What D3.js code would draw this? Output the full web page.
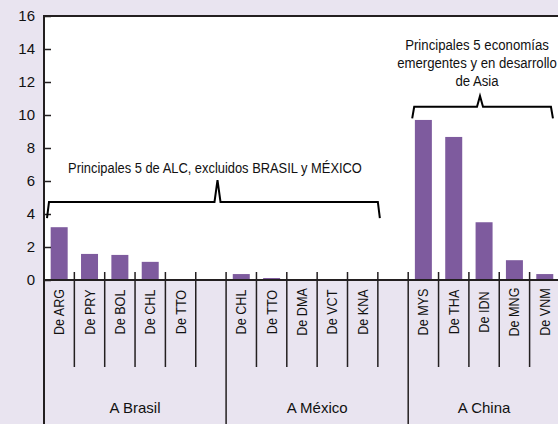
<!DOCTYPE html>
<html>
<head>
<meta charset="utf-8">
<script src="https://cdn.jsdelivr.net/npm/d3@7"></script>
<style>
  body { margin: 0; background: #e9e4f0; }
  svg { display: block; font-family: "Liberation Sans", Arial, sans-serif; }
</style>
</head>
<body>
<div id="chart"></div>
<script>
// categorias (los huecos vacíos separan los grupos)
const categories = ["De ARG", "De PRY", "De BOL", "De CHL", "De TTO", "",
                    "De CHL", "De TTO", "De DMA", "De VCT", "De KNA", "",
                    "De MYS", "De THA", "De IDN", "De MNG", "De VNM"];
const groupIndex = [0, 0, 0, 0, 0, 0, 1, 1, 1, 1, 1, 1, 2, 2, 2, 2, 2];
const groups = ["A Brasil", "A México", "A China"];
const values = [3.2, 1.58, 1.52, 1.1, 0, null,
                0.36, 0.12, 0, 0, 0, null,
                9.7, 8.67, 3.5, 1.2, 0.36];
const yTicks = [0, 2, 4, 6, 8, 10, 12, 14, 16];
const noteAlc = "Principales 5 de ALC, excluidos BRASIL y MÉXICO";
const noteAsia = ["Principales 5 economías", "emergentes y en desarrollo", "de Asia"];

const width = 558, height = 424;
const plotLeft = 44, plotTop = 16, plotBase = 280;
const step = 30.35;
const ink = "#231f20";
const narrow = 0.86; // el original usa una letra estrecha

const svg = d3.select("#chart").append("svg")
  .attr("width", width)
  .attr("height", height);

const x = d3.scaleBand()
  .domain(d3.range(categories.length))
  .range([plotLeft, plotLeft + step * categories.length]);

const y = d3.scaleLinear().domain([0, 16]).range([plotBase, plotTop]);

// area del grafico
svg.append("rect")
  .attr("x", plotLeft).attr("y", plotTop)
  .attr("width", width - plotLeft).attr("height", plotBase - plotTop)
  .attr("fill", "#fff");

// barras
const barW = x.bandwidth() * 0.56;
svg.selectAll("rect.bar")
  .data(values.map((v, i) => ({ v, i })).filter(d => d.v))
  .enter()
  .append("rect")
  .attr("class", "bar")
  .attr("x", d => x(d.i) + (x.bandwidth() - barW) / 2)
  .attr("y", d => y(d.v))
  .attr("width", barW)
  .attr("height", d => y(0) - y(d.v))
  .attr("fill", "#7e5b9e");

// eje y
const yAxis = svg.append("g")
  .attr("transform", `translate(${plotLeft},0)`)
  .call(d3.axisLeft(y).tickValues(yTicks).tickSize(-7).tickPadding(9));
yAxis.select(".domain").remove();
yAxis.selectAll("line").attr("stroke", ink).attr("stroke-width", 1.5);
yAxis.selectAll("text")
  .attr("font-size", 15)
  .attr("font-family", "Liberation Sans, Arial, sans-serif")
  .attr("fill", "#111");

// marco: izquierda y arriba
svg.append("line")
  .attr("x1", plotLeft).attr("x2", plotLeft)
  .attr("y1", plotTop - 1).attr("y2", height)
  .attr("stroke", ink).attr("stroke-width", 2);
svg.append("line")
  .attr("x1", plotLeft).attr("x2", width)
  .attr("y1", plotTop).attr("y2", plotTop)
  .attr("stroke", ink).attr("stroke-width", 2);

// eje x
svg.append("line")
  .attr("x1", plotLeft).attr("x2", width)
  .attr("y1", y(0)).attr("y2", y(0))
  .attr("stroke", ink).attr("stroke-width", 2);

// separadores entre categorias
svg.selectAll("line.sep")
  .data(d3.range(1, categories.length))
  .enter()
  .append("line")
  .attr("class", "sep")
  .attr("x1", i => x(i)).attr("x2", i => x(i))
  .attr("y1", y(0) - 8)
  .attr("y2", i => groupIndex[i] !== groupIndex[i - 1] ? height : 367)
  .attr("stroke", ink).attr("stroke-width", 1.5);

// etiquetas de categoria
svg.selectAll("text.cat")
  .data(categories)
  .enter()
  .append("text")
  .attr("class", "cat")
  .attr("transform", (d, i) =>
    `translate(${x(i) + x.bandwidth() / 2 + 5},312) rotate(-90) scale(0.84,1)`)
  .attr("text-anchor", "middle")
  .attr("font-size", 15)
  .attr("fill", "#111")
  .text(d => d);

// etiquetas de grupo
svg.selectAll("text.grp")
  .data(groups)
  .enter()
  .append("text")
  .attr("class", "grp")
  .attr("x", (g, gi) => {
    const idx = d3.range(categories.length).filter(i => groupIndex[i] === gi);
    return (x(idx[0]) + x(idx[idx.length - 1]) + x.bandwidth()) / 2;
  })
  .attr("y", 413)
  .attr("text-anchor", "middle")
  .attr("font-size", 15)
  .attr("fill", "#111")
  .text(d => d);

// llaves
function brace(x0, x1, xm, yLine, yEnd, yPeak) {
  return `M${x0 - 2},${y(yEnd)} L${x0},${y(yLine)} L${xm - 3},${y(yLine)} L${xm},${y(yPeak)} ` +
         `L${xm + 3},${y(yLine)} L${x1},${y(yLine)} L${x1 + 2},${y(yEnd)}`;
}
svg.append("path")
  .attr("d", brace(x(0) + 5, x(11), 217.5, 4.73, 3.75, 6.05))
  .attr("fill", "none").attr("stroke", "#000").attr("stroke-width", 2);
svg.append("path")
  .attr("d", brace(x(12) + 6, x(16) + x.bandwidth() - 9, 480, 10.5, 9.8, 11.15))
  .attr("fill", "none").attr("stroke", "#000").attr("stroke-width", 2);

svg.append("text")
  .attr("transform", `translate(215,${y(6.5)}) scale(${narrow},1)`)
  .attr("text-anchor", "middle")
  .attr("font-size", 15)
  .attr("fill", "#111")
  .text(noteAlc);

svg.append("text")
  .attr("transform", `translate(477,0) scale(${narrow + 0.02},1)`)
  .attr("text-anchor", "middle")
  .attr("font-size", 15)
  .attr("fill", "#111")
  .selectAll("tspan")
  .data(noteAsia)
  .enter()
  .append("tspan")
  .attr("x", 0)
  .attr("y", (d, i) => 50 + i * 18)
  .text(d => d);
</script>
</body>
</html>
